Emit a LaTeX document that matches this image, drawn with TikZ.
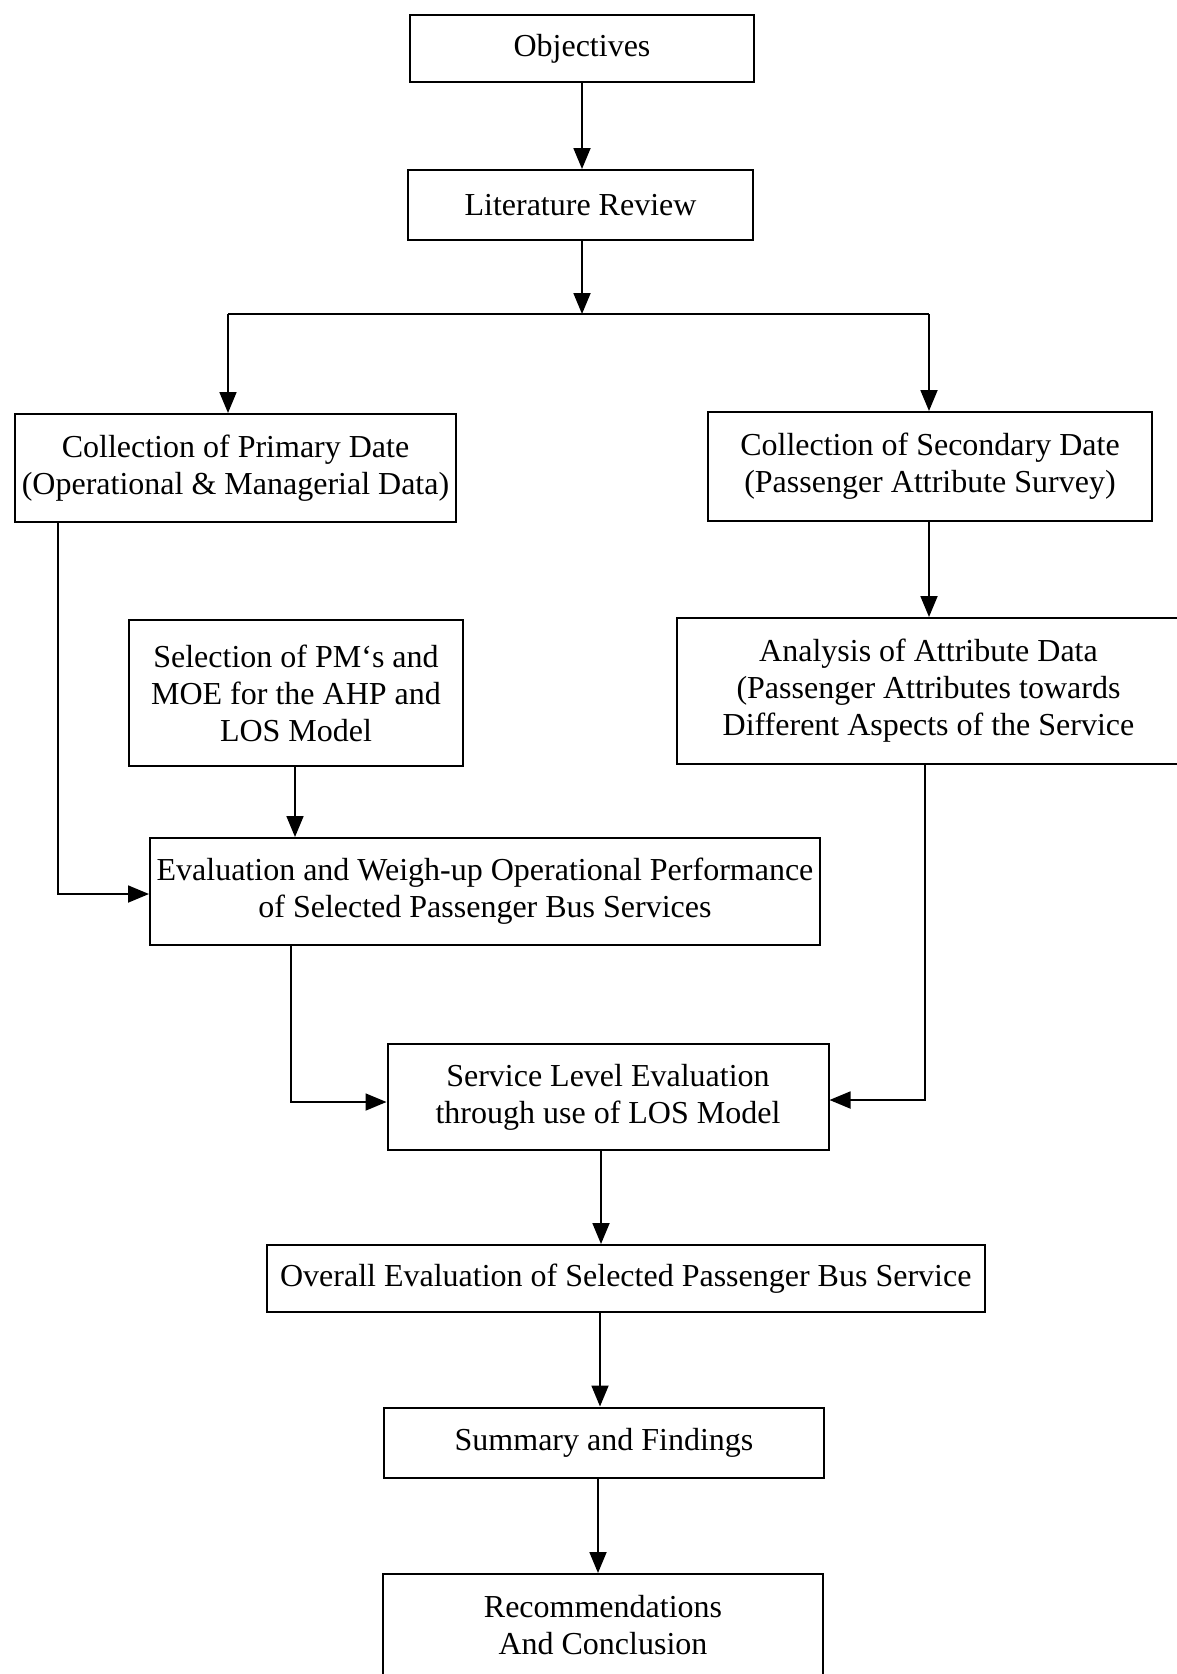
\documentclass[tikz,border=0pt]{standalone}
\usepackage{fontspec}
\setmainfont{Liberation Serif}
\usetikzlibrary{arrows.meta}
\begin{document}
\begin{tikzpicture}[x=1pt,y=-1pt,
  box/.style={draw,line width=2pt,rectangle,align=center,inner sep=0pt,
    font=\fontsize{32}{37}\selectfont},
  conn/.style={line width=1.8pt,-{Triangle[length=21pt,width=17pt]}},
  seg/.style={line width=1.8pt}]
\useasboundingbox (0,0) rectangle (1177,1674);
\clip (0,0) rectangle (1177,1674);
\fill[white] (0,0) rectangle (1177,1674);

\node[box,minimum width=344pt,minimum height=67pt] (obj) at (582,48.5) {Objectives};
\node[box,minimum width=345pt,minimum height=70pt] (lit) at (580.5,205) {Literature Review};
\coordinate (j) at (582,314);
\coordinate (jl) at (228,314);
\coordinate (jr) at (929,314);
\node[box,minimum width=441pt,minimum height=108pt] (prim) at (235.5,468) {Collection of Primary Date\\(Operational \& Managerial Data)};
\node[box,minimum width=444pt,minimum height=109pt] (sec) at (930,466.5) {Collection of Secondary Date\\(Passenger Attribute Survey)};
\node[box,minimum width=334pt,minimum height=146pt] (sel) at (296,693) {Selection of PM{\char"60}s and\\MOE for the AHP and\\LOS Model};
\node[box,minimum width=503pt,minimum height=146pt] (ana) at (928.5,691) {Analysis of Attribute Data\\(Passenger Attributes towards\\Different Aspects of the Service};
\node[box,minimum width=670pt,minimum height=107pt] (eva) at (485,891.5) {Evaluation and Weigh-up Operational Performance\\of Selected Passenger Bus Services};
\node[box,minimum width=441pt,minimum height=106pt] (ser) at (608,1097) {Service Level Evaluation\\through use of LOS Model};
\node[box,minimum width=718.5pt,minimum height=67pt] (ove) at (625.75,1278.5) {Overall Evaluation of Selected Passenger Bus Service};
\node[box,minimum width=440pt,minimum height=70pt] (sum) at (604,1442.5) {Summary and Findings};
\node[box,anchor=north,minimum width=440pt,inner ysep=21pt] (rec) at (603,1573) {Recommendations\\And Conclusion};

\draw[conn] (obj.south -| 582,0) -- (lit.north -| 582,0);
\draw[conn] (lit.south -| j) -- (j);
\draw[seg] (jl) -- (jr);
\draw[conn] (jl) -- (jl |- prim.north);
\draw[conn] (jr) -- (jr |- sec.north);
\draw[conn] (sec.south -| jr) -- (jr |- ana.north);
\draw[conn] (prim.south -| 58,0) |- (eva.west |- 0,894);
\draw[conn] (sel.south -| 295,0) -- (eva.north -| 295,0);
\draw[conn] (eva.south -| 291,0) |- (ser.west |- 0,1102);
\draw[conn] (ana.south -| 925,0) |- (ser.east |- 0,1100);
\draw[conn] (ser.south -| 601,0) -- (ove.north -| 601,0);
\draw[conn] (ove.south -| 600,0) -- (sum.north -| 600,0);
\draw[conn] (sum.south -| 598,0) -- (rec.north -| 598,0);
\end{tikzpicture}
\end{document}
